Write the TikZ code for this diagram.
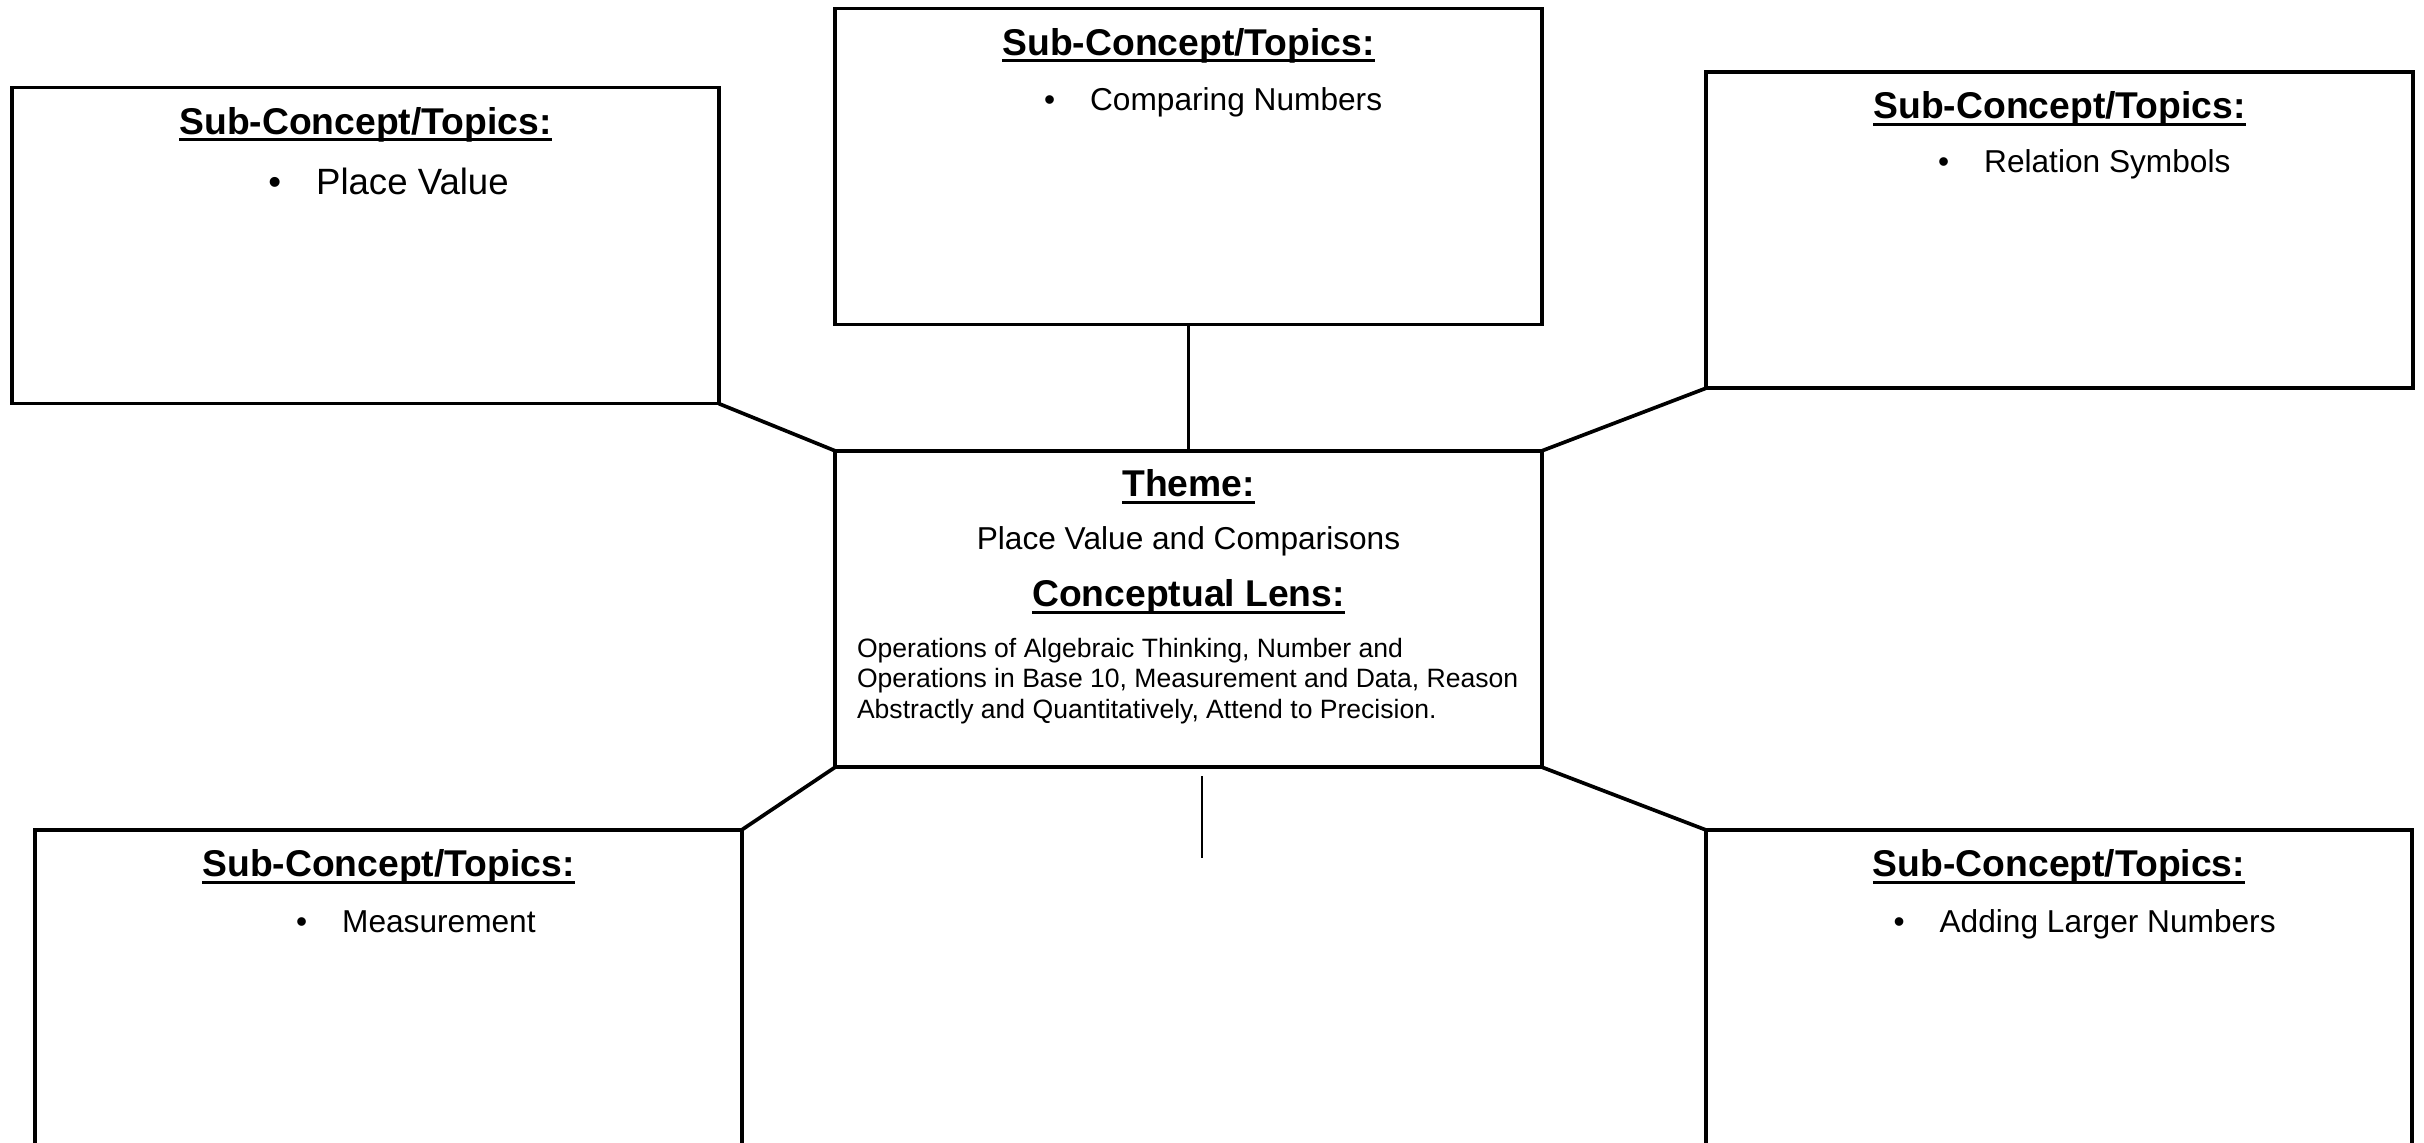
\documentclass[tikz,border=0pt]{standalone}
\usepackage{fontspec}
\setmainfont{Liberation Sans}
\usetikzlibrary{calc}
% underlined heading with a heavier rule
\newcommand\hdline[1]{\setbox0\hbox{#1}\rlap{\rule[-1.9pt]{\wd0}{0.85pt}}\box0}
% bullet hung to the left of an item
\newcommand\bul{\llap{\textbullet\hspace{0.35cm}}}
\begin{document}
\begin{tikzpicture}[x=0.01cm,y=-0.01cm,
  panel/.style={draw,line width=1.05pt,inner sep=0pt,outer sep=0pt,
                minimum width=7.06cm,minimum height=3.16cm},
  link/.style={line width=1.05pt},
  heading/.style={inner sep=0pt,anchor=base,
                  font=\fontsize{10.6pt}{12pt}\selectfont\bfseries},
  item/.style={inner sep=0pt,anchor=base west,
               font=\fontsize{9pt}{11pt}\selectfont},
  bigitem/.style={item,font=\fontsize{10.4pt}{12pt}\selectfont},
]
\useasboundingbox (0,0) rectangle (2424,1143);
\clip (0,0) rectangle (2424,1143);

% boxes
\node[panel] (pv)    at (365.5,245.5) {};
\node[panel] (cn)    at (1188.5,166.5) {};
\node[panel] (rs)    at (2059.5,230) {};
\node[panel] (theme) at (1188.5,609) {};
\node[panel] (ms)    at (388.5,988) {};
\node[panel] (al)    at (2059,988) {};

% connectors
\draw[link] (pv.south east) -- (theme.north west);
\draw[link] (cn.south) -- (theme.north);
\draw[link] (rs.south west) -- (theme.north east);
\draw[link] (theme.south west) -- (ms.north east);
\draw[link] (theme.south east) -- (al.north west);
\coordinate (stubtop) at (1202,776);
\coordinate (stubbot) at (1202,858);
\draw[line width=0.45pt] (stubtop) -- (stubbot);

% sub-concept headings
\foreach \b in {pv,cn,rs,ms,al}
  \node[heading] (\b-hd) at ([yshift=-0.47cm]\b.north) {\hdline{Sub-Concept/Topics:}};

% items
\node[bigitem] (pv-it) at ([xshift=3.03cm,yshift=-1.07cm]pv.north west) {\bul Place Value};
\node[item] (cn-it) at ([xshift=2.54cm,yshift=-1.02cm]cn.north west) {\bul Comparing Numbers};
\node[item] (rs-it) at ([xshift=2.77cm,yshift=-1.01cm]rs.north west) {\bul Relation Symbols};
\node[item] (ms-it) at ([xshift=3.06cm,yshift=-1.03cm]ms.north west) {\bul Measurement};
\node[item] (al-it) at ([xshift=2.33cm,yshift=-1.03cm]al.north west) {\bul Adding Larger Numbers};

% theme box contents
\node[heading] (theme-hd) at ([yshift=-0.46cm]theme.north) {\hdline{Theme:}};
\node[inner sep=0pt,anchor=base,font=\fontsize{9pt}{11pt}\selectfont] (theme-tx)
  at ([yshift=-0.99cm]theme.north) {Place Value and Comparisons};
\node[heading] (lens-hd) at ([yshift=-1.56cm]theme.north) {\hdline{Conceptual Lens:}};
% the base anchor of this three-line node sits on its last line
\node[inner sep=0pt,anchor=base west,align=left,
      font=\fontsize{7.55pt}{8.68pt}\selectfont] (lens-tx)
  at ([xshift=0.21cm,yshift=-2.67cm]theme.north west)
  {Operations of Algebraic Thinking, Number and\\
   Operations in Base 10, Measurement and Data, Reason\\
   Abstractly and Quantitatively, Attend to Precision.};
\end{tikzpicture}
\end{document}
